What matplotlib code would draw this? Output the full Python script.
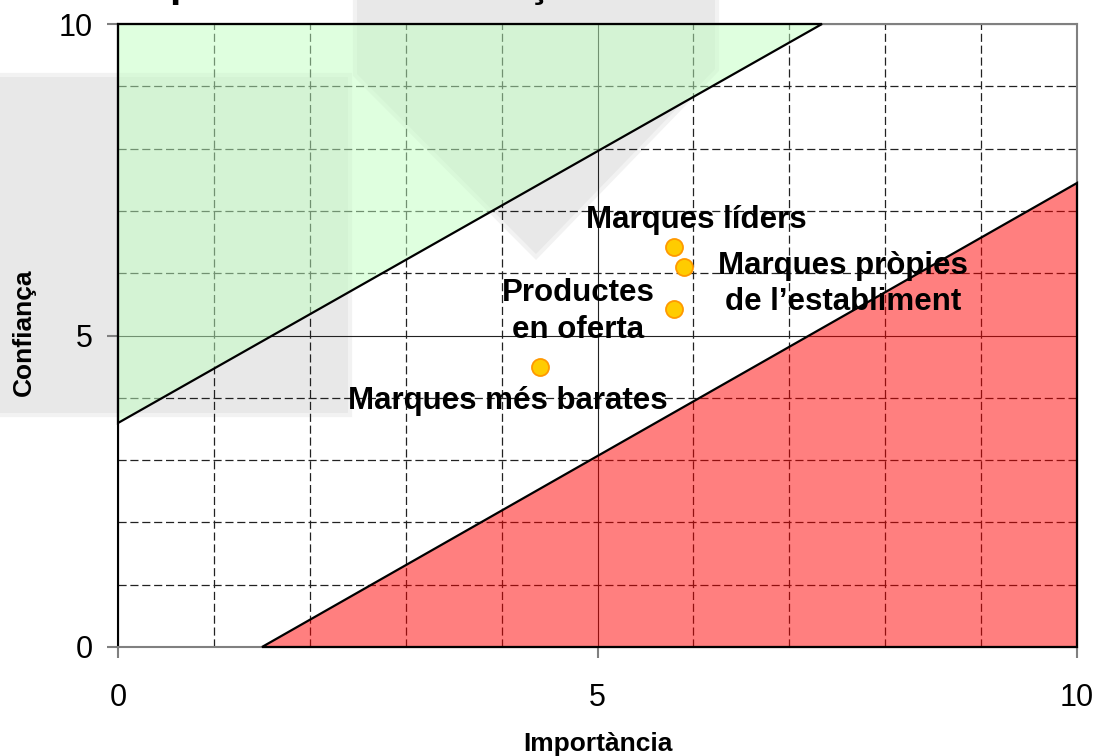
import matplotlib
matplotlib.use("Agg")
import matplotlib.pyplot as plt
from matplotlib.patches import Polygon

# data
labels = ["Marques líders", "Marques pròpies\nde l\u2019establiment",
          "Productes\nen oferta", "Marques més barates"]
importancia = [5.80, 5.90, 5.80, 4.40]
confianca = [6.42, 6.10, 5.43, 4.49]

# zones: green (high confidence, low importance) and red (low confidence, high importance)
green_x = [0, 0, 7.34]
green_y = [3.6, 10, 10]
red_x = [1.5, 10, 10]
red_y = [0, 0, 7.45]

major_ticks = [0, 5, 10]
minor_ticks = [1, 2, 3, 4, 6, 7, 8, 9]

# label offsets from each point, in pixels, and their vertical alignment
label_offsets = [(22, 19), (159, -17), (-96, -3), (-32, -42)]
label_va = ["baseline", "center", "center", "baseline"]

W, H = 1102, 756


def px(x, y):
    """pixel position (from top-left) to figure fraction"""
    return (x / W, 1 - y / H)


fig = plt.figure(figsize=(W / 100, H / 100), dpi=100)
plt.rcParams['font.family'] = ['Liberation Sans', 'DejaVu Sans']

# background watermark shapes behind the chart
wm_color = '#e8e8e8'
left_box = [px(-10, 75), px(350, 75), px(350, 415), px(-10, 415)]
arrow = [px(355, -10), px(717, -10), px(717, 70), px(536, 257), px(355, 75)]
for shape in (left_box, arrow):
    fig.patches.append(Polygon(shape, closed=True, transform=fig.transFigure,
                               facecolor=wm_color, edgecolor='#f2f2f2',
                               linewidth=3, zorder=-1))

ax = fig.add_axes([118 / W, 1 - 647 / H, (1077 - 118) / W, (647 - 24) / H])
ax.set_facecolor('none')
ax.set_xlim(0, 10)
ax.set_ylim(0, 10)

ax.set_xticks(major_ticks)
ax.set_yticks(major_ticks)
ax.set_xticks(minor_ticks, minor=True)
ax.set_yticks(minor_ticks, minor=True)
ax.set_axisbelow(True)
ax.grid(which='major', color='#222222', linewidth=0.8)
ax.grid(which='minor', color='#222222', linewidth=0.9, linestyle=(0, (6.5, 3)))

ax.tick_params(which='minor', length=0)
ax.tick_params(which='major', length=8, width=1.5, color='#808080',
               labelsize=22, direction='out')
ax.tick_params(axis='x', pad=18)
ax.tick_params(axis='y', pad=10)

for name, sp in ax.spines.items():
    sp.set_color('black' if name == 'left' else '#808080')
    sp.set_linewidth(1.5)
    sp.set_zorder(0.6)

# zones
ax.add_patch(Polygon(list(zip(green_x, green_y)), closed=True,
                     facecolor=(0.757, 1.0, 0.757, 0.5), edgecolor='black',
                     linewidth=1.6, zorder=1, clip_on=False))
ax.add_patch(Polygon(list(zip(red_x, red_y)), closed=True,
                     facecolor=(1.0, 0.0, 0.0, 0.5), edgecolor='black',
                     linewidth=1.6, zorder=1, clip_on=False))

ax.scatter(importancia, confianca, s=150, c='#FFCC00', edgecolors='#FF9900',
           linewidths=1.3, zorder=3)

for lab, xv, yv, off, va in zip(labels, importancia, confianca, label_offsets, label_va):
    ax.annotate(lab, (xv, yv), xytext=off, textcoords='offset pixels',
                ha='center', va=va, fontsize=22.5, fontweight='bold',
                linespacing=1.3, zorder=4)

ax.set_xlabel('Importància', fontsize=19, fontweight='bold')
ax.set_ylabel('Confiança', fontsize=19, fontweight='bold')
ax.xaxis.set_label_coords(0.5, -0.136)
ax.yaxis.set_label_coords(-0.086, 0.506)

# chart title, mostly cut off at the top edge of the picture
fig.text(123 / W, 1 + 3.4 / H, 'Importància i confiança', ha='left',
         va='baseline', fontsize=29, fontweight='bold')

fig.savefig('out.png', dpi=100)
